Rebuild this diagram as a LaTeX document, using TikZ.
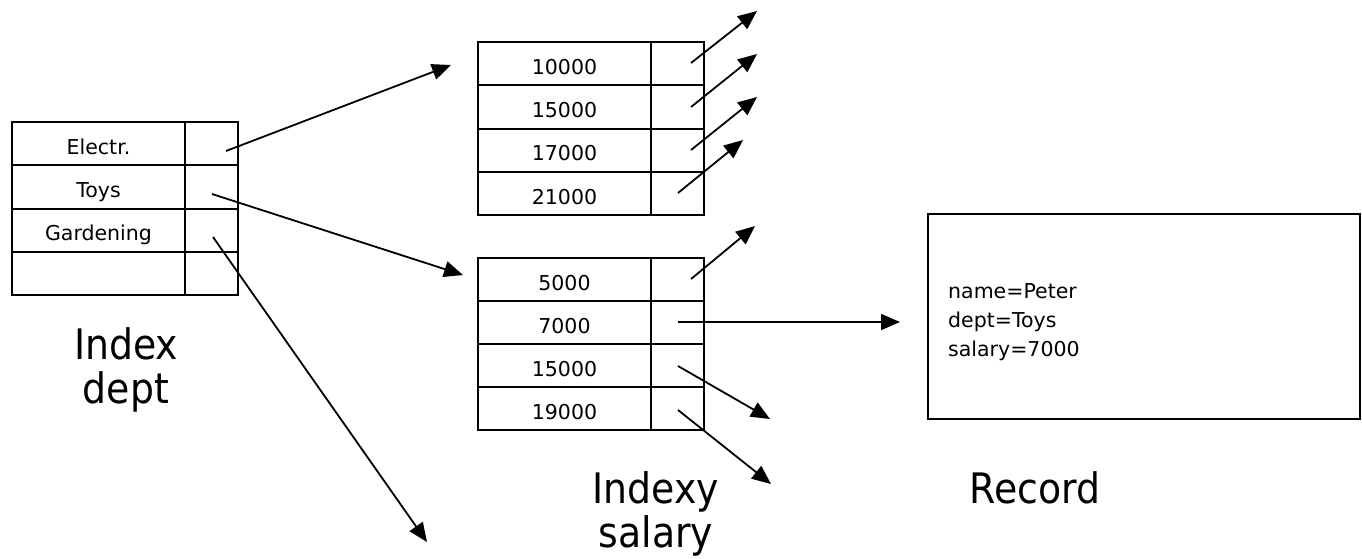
\documentclass[tikz,border=0pt]{standalone}
\usepackage{fontspec}
\setmainfont{DejaVu Sans}
\newfontfamily\condfont{DejaVu Sans Condensed}
\usetikzlibrary{arrows.meta}
\begin{document}
\begin{tikzpicture}[x=1pt,y=-1pt,
  cell/.style={draw, line width=2pt, inner sep=0pt, minimum height=43.3pt,
    font=\fontsize{20.5}{23}\selectfont, text height=21pt, text depth=0pt},
  keycell/.style={cell, minimum width=173pt},
  ptrcell/.style={cell, minimum width=53pt},
  ptr/.style={line width=1.8pt, -{Triangle[length=19pt,width=16pt]}},
  biglabel/.style={font=\condfont\fontsize{42}{46}\selectfont, anchor=base, inner sep=0pt},
  rectext/.style={font=\fontsize{20.5}{23}\selectfont, anchor=base west, inner sep=0pt}
]
\useasboundingbox (0,0) rectangle (1362,558);

% ---- Index dept table ----
\node[keycell] (d1) at (98.5,143.6) {Electr.};
\node[keycell] (d2) at (98.5,186.9) {Toys};
\node[keycell] (d3) at (98.5,230.2) {Gardening};
\node[keycell] (d4) at (98.5,273.5) {};
\node[ptrcell] (dp1) at (211.5,143.6) {};
\node[ptrcell] (dp2) at (211.5,186.9) {};
\node[ptrcell] (dp3) at (211.5,230.2) {};
\node[ptrcell] (dp4) at (211.5,273.5) {};
\node[biglabel] (lab1a) at (126,359) {Index};
\node[biglabel] (lab1b) at (126,403) {dept};

% ---- top salary table ----
\node[keycell] (a1) at (564.5,63.6) {10000};
\node[keycell] (a2) at (564.5,106.9) {15000};
\node[keycell] (a3) at (564.5,150.2) {17000};
\node[keycell] (a4) at (564.5,193.5) {21000};
\node[ptrcell] (ap1) at (677.5,63.6) {};
\node[ptrcell] (ap2) at (677.5,106.9) {};
\node[ptrcell] (ap3) at (677.5,150.2) {};
\node[ptrcell] (ap4) at (677.5,193.5) {};

% ---- middle salary table ----
\node[keycell] (b1) at (564.5,279.5) {5000};
\node[keycell] (b2) at (564.5,322.5) {7000};
\node[keycell] (b3) at (564.5,365.5) {15000};
\node[keycell] (b4) at (564.5,408.5) {19000};
\node[ptrcell] (bp1) at (677.5,279.5) {};
\node[ptrcell] (bp2) at (677.5,322.5) {};
\node[ptrcell] (bp3) at (677.5,365.5) {};
\node[ptrcell] (bp4) at (677.5,408.5) {};
\node[biglabel] (lab2a) at (656,503) {Indexy};
\node[biglabel] (lab2b) at (656,547) {salary};

% ---- record ----
\node[draw, line width=2pt, minimum width=432pt, minimum height=205pt, inner sep=0pt] (rec) at (1144,316.5) {};
\node[rectext] (r1) at (948,298) {name=Peter};
\node[rectext] (r2) at (948,327) {dept=Toys};
\node[rectext] (r3) at (948,356) {salary=7000};
\node[biglabel] (lab3) at (1035,503) {Record};

% ---- connector end points ----
\coordinate (s1) at (226,151);  \coordinate (t1) at (451,65);
\coordinate (s2) at (212,194);  \coordinate (t2) at (463,275);
\coordinate (s3) at (213,237);  \coordinate (t3) at (427,542);
\coordinate (sa1) at (691,63);  \coordinate (ta1) at (757,11);
\coordinate (sa2) at (691,107); \coordinate (ta2) at (757,54);
\coordinate (sa3) at (691,150); \coordinate (ta3) at (757,97);
\coordinate (sa4) at (678,193); \coordinate (ta4) at (743,140);
\coordinate (sb1) at (691,279); \coordinate (tb1) at (755,226);
\coordinate (sb2) at (678,322); \coordinate (tb2) at (900,322);
\coordinate (sb3) at (678,366); \coordinate (tb3) at (770,419);
\coordinate (sb4) at (678,410); \coordinate (tb4) at (771,484);

\draw[ptr] (s1) -- (t1);
\draw[ptr] (s2) -- (t2);
\draw[ptr] (s3) -- (t3);
\draw[ptr] (sa1) -- (ta1);
\draw[ptr] (sa2) -- (ta2);
\draw[ptr] (sa3) -- (ta3);
\draw[ptr] (sa4) -- (ta4);
\draw[ptr] (sb1) -- (tb1);
\draw[ptr] (sb2) -- (tb2);
\draw[ptr] (sb3) -- (tb3);
\draw[ptr] (sb4) -- (tb4);
\end{tikzpicture}
\end{document}
